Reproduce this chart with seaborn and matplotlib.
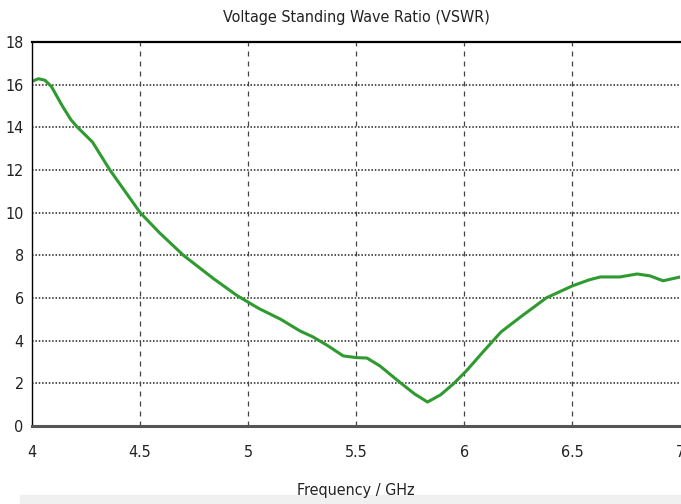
import matplotlib
matplotlib.use("Agg")
import matplotlib.pyplot as plt
import seaborn as sns
import numpy as np
import pandas as pd

# values
freq_ghz = [4.00, 4.03, 4.06, 4.09, 4.14, 4.18, 4.21, 4.28, 4.36, 4.43, 4.50, 4.59,
            4.70, 4.84, 4.95, 5.05, 5.15, 5.24, 5.30, 5.37, 5.44, 5.50, 5.55, 5.61,
            5.70, 5.77, 5.83, 5.89, 5.95, 6.01, 6.09, 6.17, 6.26, 6.38, 6.50, 6.58,
            6.63, 6.72, 6.80, 6.86, 6.92, 7.00]
vswr = [16.15, 16.27, 16.2, 15.9, 15.0, 14.35, 14.0, 13.3, 12.0, 11.0, 10.0, 9.05,
        8.0, 6.9, 6.1, 5.5, 5.0, 4.45, 4.17, 3.75, 3.28, 3.2, 3.18, 2.81,
        2.06, 1.5, 1.12, 1.45, 1.97, 2.58, 3.5, 4.4, 5.1, 6.0, 6.56, 6.85,
        6.98, 6.98, 7.12, 7.03, 6.8, 6.98]

x_ticks = [4, 4.5, 5, 5.5, 6, 6.5, 7]
x_tick_labels = ["4", "4.5", "5", "5.5", "6", "6.5", "7"]
y_ticks = [0, 2, 4, 6, 8, 10, 12, 14, 16, 18]

df = pd.DataFrame({"freq": freq_ghz, "vswr": vswr})

sns.set_style("white")
plt.rcParams["font.family"] = ["DejaVu Sans"]
plt.rcParams["font.stretch"] = "condensed"

fig = plt.figure(figsize=(6.81, 5.04), dpi=100)
ax = fig.add_axes([0.047, 0.155, 0.952, 0.762])

sns.lineplot(data=df, x="freq", y="vswr", ax=ax, color="#2f9a2f", linewidth=2.2)

ax.set_xlim(4, 7)
ax.set_ylim(0, 18)
ax.set_xticks(x_ticks)
ax.set_xticklabels(x_tick_labels)
ax.set_yticks(y_ticks)

# grid: dotted horizontal, dashed vertical
for y in y_ticks[1:-1]:
    ax.axhline(y, color="#222222", linestyle=(0, (1, 1.2)), linewidth=1.1, zorder=0)
for x in x_ticks[1:-1]:
    ax.axvline(x, color="#444444", linestyle=(0, (4, 4)), linewidth=0.9, zorder=0)

ax.spines["top"].set_linewidth(1.6)
ax.spines["top"].set_color("black")
ax.spines["bottom"].set_linewidth(2.2)
ax.spines["bottom"].set_color("#555555")
ax.spines["left"].set_linewidth(1.0)
ax.spines["left"].set_color("black")
ax.spines["right"].set_visible(False)

ax.tick_params(axis="both", which="major", length=4, width=1, color="#333333",
               labelsize=11.5, labelcolor="#222222", direction="out")
ax.tick_params(axis="x", pad=10)
ax.tick_params(axis="y", pad=2)

ax.set_title("Voltage Standing Wave Ratio (VSWR)", fontsize=11.5, color="#222222", pad=14)
ax.set_xlabel("Frequency / GHz", fontsize=11.5, color="#222222", labelpad=16)
ax.set_ylabel("")

fig.patches.append(plt.Rectangle((0.03, 0.0), 0.97, 0.018, transform=fig.transFigure,
                                 color="#f0f0f0", zorder=-1))

fig.savefig("out.png", dpi=100)
plt.close(fig)
